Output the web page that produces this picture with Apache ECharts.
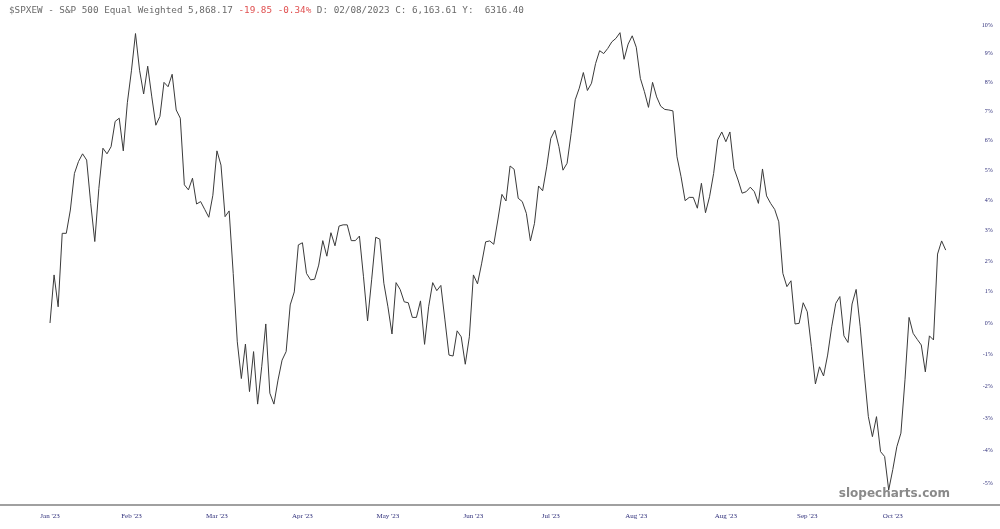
<!DOCTYPE html>
<html>
<head>
<meta charset="utf-8">
<script src="https://cdn.jsdelivr.net/npm/echarts@6/dist/echarts.min.js"></script>
<style>
html,body{margin:0;padding:0;background:#fff;}
#chart{width:1000px;height:529px;}
</style>
</head>
<body>
<div id="chart"></div>
<script>
// Percent change since first session
const pct = [
  0.0, 1.55, 0.52, 2.91, 2.91, 3.68, 4.9, 5.3, 5.56, 5.35,
  3.9, 2.64, 4.4, 5.75, 5.56, 5.8, 6.66, 6.77, 5.66, 7.3,
  8.4, 9.7, 8.42, 7.6, 8.56, 7.5, 6.53, 6.83, 8.0, 7.85,
  8.28, 7.05, 6.77, 4.52, 4.35, 4.74, 3.88, 3.96, 3.7, 3.44,
  4.17, 5.66, 5.18, 3.46, 3.65, 1.6, -0.6, -1.76, -0.67, -2.17,
  -0.91, -2.56, -1.39, -0.03, -2.22, -2.56, -1.81, -1.18, -0.91, 0.58,
  1.0, 2.53, 2.6, 1.6, 1.39, 1.41, 1.87, 2.67, 2.16, 2.93,
  2.5, 3.15, 3.19, 3.19, 2.67, 2.67, 2.82, 1.49, 0.07, 1.39,
  2.78, 2.72, 1.28, 0.52, -0.35, 1.3, 1.08, 0.68, 0.65, 0.18,
  0.18, 0.71, -0.68, 0.52, 1.3, 1.04, 1.21, 0.1, -1.02, -1.05,
  -0.25, -0.44, -1.31, -0.44, 1.55, 1.26, 1.91, 2.63, 2.66, 2.55,
  3.35, 4.2, 3.98, 5.15, 5.04, 4.07, 3.96, 3.57, 2.66, 3.24,
  4.48, 4.32, 5.12, 6.08, 6.36, 5.8, 5.01, 5.24, 6.25, 7.4,
  7.8, 8.34, 7.72, 7.97, 8.65, 9.1, 9.0, 9.18, 9.41, 9.53,
  9.73, 8.8, 9.33, 9.62, 9.22, 8.14, 7.68, 7.14, 8.0, 7.5,
  7.18, 7.07, 7.05, 7.02, 5.46, 4.79, 3.99, 4.1, 4.1, 3.74,
  4.57, 3.59, 4.12, 4.9, 6.03, 6.3, 5.97, 6.3, 5.07, 4.68,
  4.24, 4.29, 4.44, 4.29, 3.9, 5.05, 4.15, 3.9, 3.7, 3.29,
  1.6, 1.17, 1.36, -0.03, -0.01, 0.65, 0.36, -0.75, -1.93, -1.39,
  -1.68, -1.02, -0.12, 0.63, 0.85, -0.41, -0.62, 0.61, 1.08, -0.12,
  -1.59, -2.95, -3.57, -2.95, -4.03, -4.18, -5.2, -4.58, -3.88, -3.46,
  -1.8, 0.18, -0.33, -0.52, -0.7, -1.55, -0.41, -0.54, 2.23, 2.66,
  2.36
];

// x-axis tick positions (session index) and their labels
const xTickIndex = [0, 20, 41, 62, 83, 104, 123, 144, 166, 186, 207];
const xTickLabels = ["Jan '23", "Feb '23", "Mar '23", "Apr '23", "May '23", "Jun '23", "Jul '23", "Aug '23", "Aug '23", "Sep '23", "Oct '23"];

// y-axis tick values (percent)
const yTickPct = [-5, -4, -3, -2, -1, 0, 1, 2, 3, 4, 5, 6, 7, 8, 9, 10];

// Header text pieces
const headerMain = "$SPXEW - S&P 500 Equal Weighted 5,868.17 ";
const headerChange = "-19.85 -0.34%";
const headerTail = " D: 02/08/2023 C: 6,163.61 Y:  6316.40";

// logarithmic price scale: plot ln(1+p)
const toLog = p => Math.log(1 + p / 100) * 100;
const fromLog = v => (Math.exp(v / 100) - 1) * 100;

const categories = pct.map((_, i) => String(i));
const labelMap = {};
xTickIndex.forEach((idx, k) => { labelMap[idx] = xTickLabels[k]; });

const chart = echarts.init(document.getElementById('chart'), null, {renderer: 'canvas'});
chart.setOption({
  animation: false,
  backgroundColor: '#ffffff',
  title: {
    left: 4, top: 1,
    text: '{a|' + headerMain + '}{b|' + headerChange + '}{a|' + headerTail + '}',
    textStyle: {
      fontWeight: 'normal',
      rich: {
        a: {fontFamily: 'DejaVu Sans Mono', fontSize: 9.3, fontWeight: 'normal', color: '#6a6a6a'},
        b: {fontFamily: 'DejaVu Sans Mono', fontSize: 9.3, fontWeight: 'normal', color: '#e05050'}
      }
    }
  },
  grid: {left: 50, right: 54.3, top: 15, bottom: 24},
  xAxis: {
    type: 'category',
    data: categories,
    boundaryGap: false,
    axisLine: {show: false},
    axisTick: {show: false},
    splitLine: {show: false},
    axisLabel: {
      interval: (idx) => labelMap[idx] !== undefined,
      formatter: (val, idx) => labelMap[idx] || '',
      fontFamily: 'Liberation Serif',
      fontSize: 7,
      color: '#2e2e7a',
      margin: 8
    }
  },
  yAxis: {
    type: 'value',
    position: 'right',
    min: toLog(-5) - 21.6 / 31.27,
    max: toLog(10) + 10 / 31.27,
    axisLine: {show: false},
    axisTick: {show: false},
    splitLine: {show: false},
    axisLabel: {
      customValues: yTickPct.map(toLog),
      formatter: v => Math.round(fromLog(v)) + '%',
      fontFamily: 'Liberation Serif',
      fontSize: 6,
      color: '#2e2e7a',
      align: 'right',
      margin: 47
    }
  },
  series: [{
    type: 'line',
    data: pct.map(toLog),
    showSymbol: false,
    clip: false,
    lineStyle: {color: '#3a3a3a', width: 1},
    silent: true
  }],
  graphic: [
    {type: 'rect', left: 0, top: 504, shape: {width: 1000, height: 2}, style: {fill: '#a0a0a0'}, silent: true},
    {type: 'text', right: 50, top: 488, style: {text: 'slopecharts.com', fontFamily: 'DejaVu Sans', fontWeight: 'bold', fontSize: 12, fill: '#8a8a8a'}, silent: true}
  ]
});
</script>
</body>
</html>
